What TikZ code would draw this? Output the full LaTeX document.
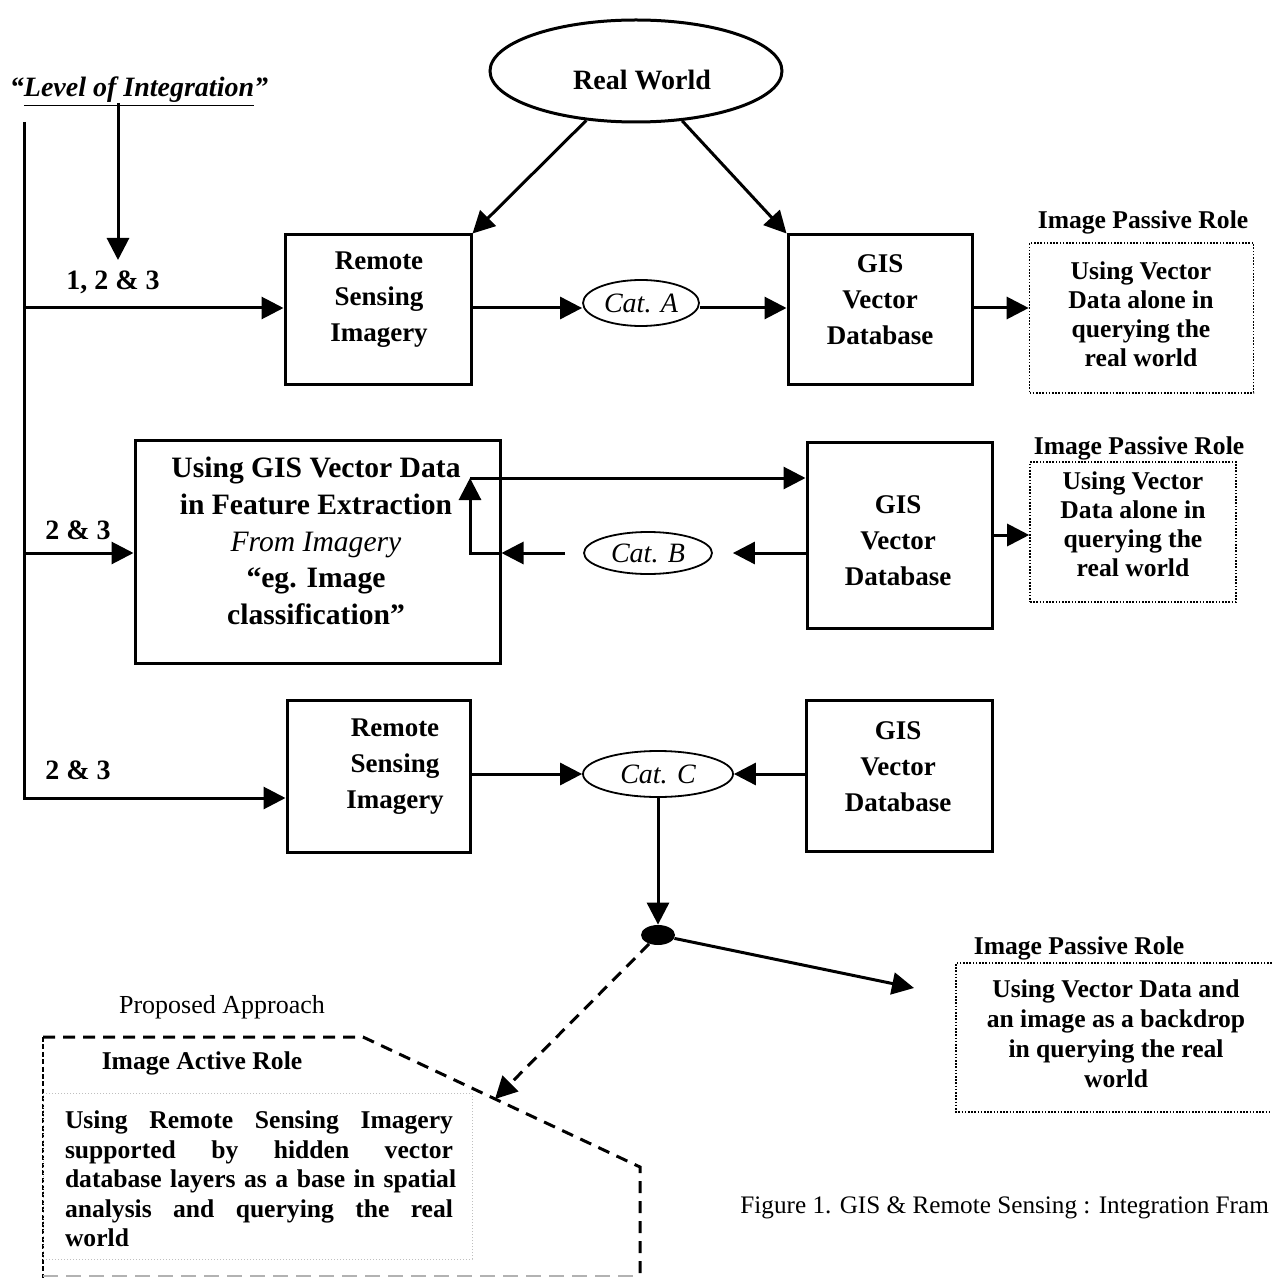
\documentclass[tikz,border=0pt]{standalone}
\usepackage{fontspec}
\setmainfont{Liberation Serif}
\usetikzlibrary{arrows.meta,shapes.geometric}
\begin{document}
\begin{tikzpicture}[x=0.5pt,y=-0.5pt,
  box/.style={draw,line width=1.5pt,inner sep=0pt},
  btxt/.style={font=\bfseries\fontsize{13.5}{18}\selectfont,align=center,inner sep=0pt},
  arr/.style={line width=1.5pt,-{Triangle[length=11pt,width=11pt]}},
  cat/.style={ellipse,draw,line width=0.9pt,inner sep=0pt,font=\itshape\fontsize{14}{16}\selectfont},
  pbox/.style={draw,line width=0.8pt,dash pattern=on 0.8pt off 0.8pt,inner sep=0pt},
  ptxt/.style={font=\bfseries\fontsize{12.8}{14.5}\selectfont,align=center,inner sep=0pt},
  ttl/.style={font=\bfseries\fontsize{12.8}{15}\selectfont,inner sep=0pt},
  lbl/.style={font=\bfseries\fontsize{14}{16}\selectfont,inner sep=0pt}
]
\useasboundingbox (0,0) rectangle (1271,1278);

% ---------- top ----------
\node[ellipse,draw,line width=1.5pt,inner sep=0pt,minimum width=146pt,minimum height=51pt] (rw) at (636,71) {};
\node[font=\bfseries\fontsize{14}{16}\selectfont,inner sep=0pt] (rwt) at (642,80) {Real World};

\node[font=\bfseries\itshape\fontsize{14}{16}\selectfont,inner sep=0pt,anchor=base] (lvl) at (139,97) {“\underline{Level of Integration}”};
\coordinate (lvlA) at (118,103);
\coordinate (lvlB) at (118,260);
\draw[arr] (lvlA) -- (lvlB);

% trunk
\coordinate (trunkT) at (24,122);
\coordinate (trunkB) at (24,798);
\coordinate (r1) at (24,308);
\coordinate (r2) at (24,553);

% ---------- row 1 ----------
\node[box,minimum width=93pt,minimum height=74.5pt] (rs1) at (378,309.5) {};
\node[btxt] (rs1t) at (379,300) {Remote\\Sensing\\Imagery};
\node[cat,minimum width=58pt,minimum height=23pt] (catA) at (641,303) {Cat. A};
\node[box,minimum width=92pt,minimum height=74.5pt] (gis1) at (880,309.5) {};
\node[btxt] (gis1t) at (880,300) {GIS\\Vector\\Database};
\node[pbox,minimum width=112pt,minimum height=75pt] (pb1) at (1141.5,318) {};
\node[ptxt] (pb1t) at (1141,314) {Using Vector\\Data alone in\\querying the\\real world};
\node[ttl] (pb1h) at (1143,222) {Image Passive Role};
\node[lbl] (l1) at (113,282) {1, 2 \& 3};

\draw[arr] (rw) -- (rs1.north east);
\draw[arr] (rw) -- (gis1.north west);
\draw[arr] (r1) -- (r1 -| rs1.west);
\draw[arr] (r1 -| rs1.east) -- (r1 -| catA.west);
\draw[arr] (r1 -| catA.east) -- (r1 -| gis1.west);
\draw[arr] (r1 -| gis1.east) -- (r1 -| pb1.west);

% ---------- row 2 ----------
\node[box,minimum width=182.5pt,minimum height=111.5pt] (big) at (317.5,551.5) {};
\node[inner sep=0pt,align=center,font=\fontsize{14.8}{18.3}\selectfont] (bigt) at (316,541)
  {\textbf{Using GIS Vector Data}\\\textbf{in Feature Extraction}\\\textit{From Imagery}\\\textbf{“eg. Image}\\\textbf{classification”}};
\node[box,minimum width=92.5pt,minimum height=93pt] (gis2) at (899.5,535) {};
\node[btxt] (gis2t) at (898,541) {GIS\\Vector\\Database};
\node[cat,minimum width=64pt,minimum height=21pt] (catB) at (648,553) {Cat. B};
\node[pbox,minimum width=103pt,minimum height=70pt] (pb2) at (1133,532) {};
\node[ptxt] (pb2t) at (1133,524) {Using Vector\\Data alone in\\querying the\\real world};
\node[ttl] (pb2h) at (1139,448) {Image Passive Role};
\node[lbl] (l2) at (78,530) {2 \& 3};
\coordinate (u1) at (470,478);

\draw[arr] (r2) -- (r2 -| big.west);
\draw[arr] (u1) -- (u1 -| gis2.west);
\draw[arr,shorten >=10pt] (gis2.west |- catB) -- (catB.east);
\draw[arr,shorten <=9pt] (catB.west) -- (catB -| big.east);
\draw[arr] (big.east |- catB) -- (catB -| u1) -- (u1);
\draw[arr] (gis2.east) -- (gis2.east -| pb2.west);

% ---------- row 3 ----------
\node[box,minimum width=91.5pt,minimum height=76pt] (rs3) at (378.5,776) {};
\node[btxt] (rs3t) at (395,767) {Remote\\Sensing\\Imagery};
\node[cat,minimum width=75pt,minimum height=23pt] (catC) at (658,774) {Cat. C};
\node[box,minimum width=93pt,minimum height=75.5pt] (gis3) at (899,775.5) {};
\node[btxt] (gis3t) at (898,767) {GIS\\Vector\\Database};
\node[lbl] (l3) at (78,770) {2 \& 3};

\draw[arr] (trunkT) -- (trunkB) -- (trunkB -| rs3.west);
\draw[arr] (rs3.east |- catC) -- (catC.west);
\draw[arr] (gis3.west |- catC) -- (catC.east);

% ---------- bottom ----------
\node[ellipse,fill=black,inner sep=0pt,minimum width=17pt,minimum height=10pt] (dot) at (658,935) {};
\draw[arr] (catC.south) -- (dot.north);
\coordinate (t3) at (914,988);
\draw[arr] (dot) -- (t3);
\coordinate (t4) at (495,1099);
\draw[arr,dash pattern=on 6pt off 4pt] (dot) -- (t4);

% passive box 3
\draw[line width=0.8pt,dash pattern=on 0.8pt off 0.8pt] (1275,963) -- (956,963) -- (956,1112) -- (1275,1112);
\node[ttl] (pb3h) at (1079,948) {Image Passive Role};
\node[font=\bfseries\fontsize{12.8}{15}\selectfont,align=center,inner sep=0pt] (pb3t) at (1116,1034)
  {Using Vector Data and\\an image as a backdrop\\in querying the real\\world};

% proposed approach
\node[font=\fontsize{13}{15}\selectfont,inner sep=0pt] (pa) at (222,1007) {Proposed Approach};
\draw[line width=1.5pt,dash pattern=on 6pt off 4pt] (43,1037) -- (363,1037) -- (640,1167) -- (640,1282);
\draw[line width=0.8pt,dash pattern=on 2.5pt off 1.2pt] (43,1037) -- (43,1282);
\draw[line width=0.9pt,gray!60,dash pattern=on 7.5pt off 4pt] (43,1276) -- (640,1276);
\node[draw=gray!50,line width=0.5pt,dash pattern=on 0.6pt off 0.9pt,inner sep=0pt,minimum width=214.5pt,minimum height=83pt] (ia) at (257.5,1176) {};
\node[ttl] (iah) at (202,1063) {Image Active Role};
\node[font=\bfseries\fontsize{12.8}{14.75}\selectfont,align=left,inner sep=0pt,text width=194pt] (iat) at (259,1179)
  {\makebox[194pt][l]{Using\hfill Remote\hfill Sensing\hfill Imagery}\\
   \makebox[194pt][l]{supported\hfill by\hfill hidden\hfill vector}\\
   \makebox[194pt][l]{database\hfill\ layers\hfill\ as\hfill\ a\hfill\ base\hfill\ in\hfill\ spatial}\\
   \makebox[194pt][l]{analysis\hfill and\hfill querying\hfill the\hfill real}\\
   world};

% caption
\node[font=\fontsize{12.6}{15}\selectfont,inner sep=0pt,anchor=west] (cap) at (740,1208) {Figure 1. GIS \& Remote Sensing : Integration Fram};
\end{tikzpicture}
\end{document}
